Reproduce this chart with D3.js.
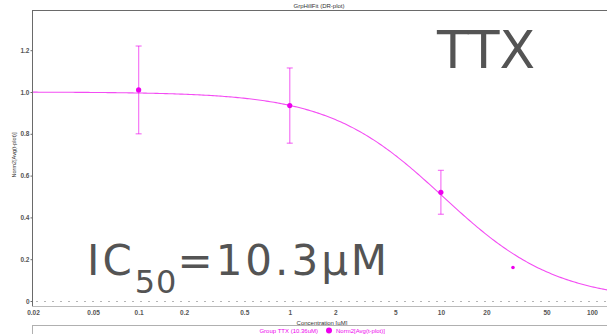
<!DOCTYPE html>
<html>
<head>
<meta charset="utf-8">
<script src="https://cdn.jsdelivr.net/npm/d3@7"></script>
<style>
  html, body { margin: 0; padding: 0; background: #fff; }
  svg { display: block; }
</style>
</head>
<body>
<svg id="chart" width="607" height="334"></svg>
<script>
// Concentrations (µM) with normalised response and error half-widths
const concentrations = [0.1, 1, 10, 30];
const responses      = [1.01, 0.935, 0.52, 0.16];
const errors         = [0.21, 0.18, 0.105, 0];

// Hill fit parameters
const fitTop = 1.0, fitBottom = 0.0, fitIC50 = 10.3, fitHill = 1.15;

const xTicks = [0.02, 0.05, 0.1, 0.2, 0.5, 1, 2, 5, 10, 20, 50, 100];
const xTickLabels = ["0.02", "0.05", "0.1", "0.2", "0.5", "1", "2", "5", "10", "20", "50", "100"];
const yTicks = [0, 0.2, 0.4, 0.6, 0.8, 1.0, 1.2];
const yTickLabels = ["0", "0.2", "0.4", "0.6", "0.8", "1.0", "1.2"];

const W = 607, H = 334;
const svg = d3.select("#chart");
const magenta = "#ee00ee";
const axisColor = "#6a6a6a";
const smallFont = "Liberation Sans, Arial, sans-serif";

const x = d3.scaleLog().domain([0.02, 100]).range([33, 592]);
const y = d3.scaleLinear().domain([0, 1]).range([301, 92]);

const plotLeft = 32, plotTop = 10, plotBottom = 306;

// title
svg.append("text")
  .attr("x", 319).attr("y", 8)
  .attr("text-anchor", "middle")
  .attr("font-family", smallFont).attr("font-size", 6)
  .attr("fill", "#333")
  .text("GrpHillFit (DR-plot)");

// frame
svg.append("line").attr("x1", plotLeft).attr("x2", W).attr("y1", plotTop + 0.5).attr("y2", plotTop + 0.5)
  .attr("stroke", axisColor).attr("stroke-width", 1);
svg.append("line").attr("x1", plotLeft + 0.5).attr("x2", plotLeft + 0.5).attr("y1", plotTop).attr("y2", plotBottom)
  .attr("stroke", axisColor).attr("stroke-width", 1);
svg.append("line").attr("x1", plotLeft).attr("x2", W).attr("y1", plotBottom + 0.5).attr("y2", plotBottom + 0.5)
  .attr("stroke", "#bbbbbb").attr("stroke-width", 1);

// zero reference line
svg.append("line")
  .attr("x1", plotLeft + 4).attr("x2", W)
  .attr("y1", y(0) + 0.5).attr("y2", y(0) + 0.5)
  .attr("stroke", "#b5b5b5").attr("stroke-width", 1)
  .attr("stroke-dasharray", "2,6");

// y axis
const yAxis = d3.axisLeft(y).tickValues(yTicks)
  .tickFormat((d, i) => yTickLabels[i]).tickSize(2).tickPadding(1);
const gy = svg.append("g").attr("transform", `translate(${plotLeft + 0.5},0)`).call(yAxis);
gy.select(".domain").remove();
gy.selectAll(".tick line").attr("stroke", axisColor);
gy.selectAll(".tick text").attr("font-family", smallFont).attr("font-size", 6.5)
  .attr("font-weight", "bold").attr("fill", "#555");

// x axis
const xAxis = d3.axisBottom(x).tickValues(xTicks)
  .tickFormat((d, i) => xTickLabels[i]).tickSize(0).tickPadding(4);
const gx = svg.append("g").attr("transform", `translate(0,${plotBottom})`).call(xAxis);
gx.select(".domain").remove();
gx.selectAll(".tick text").attr("font-family", smallFont).attr("font-size", 6.5)
  .attr("font-weight", "bold").attr("fill", "#555");

// axis titles
svg.append("text")
  .attr("x", 322).attr("y", 325)
  .attr("text-anchor", "middle")
  .attr("font-family", smallFont).attr("font-size", 6)
  .attr("fill", "#333")
  .text("Concentration [µM]");

svg.append("text")
  .attr("transform", "translate(16,155) rotate(-90)")
  .attr("text-anchor", "middle")
  .attr("font-family", smallFont).attr("font-size", 5.5)
  .attr("fill", "#333")
  .text("Norm2[Avg(t-plot)]");

// fitted Hill curve
const hill = c => fitBottom + (fitTop - fitBottom) / (1 + Math.pow(c / fitIC50, fitHill));
const xMax = x.invert(W);
const curvePts = d3.range(0, 301).map(i => {
  const c = Math.pow(10, Math.log10(0.02) + i / 300 * (Math.log10(xMax) - Math.log10(0.02)));
  return [c, hill(c)];
});
svg.append("path")
  .datum(curvePts)
  .attr("fill", "none")
  .attr("stroke", magenta).attr("stroke-opacity", 0.7).attr("stroke-width", 1.1)
  .attr("d", d3.line().x(d => x(d[0])).y(d => y(d[1])));

// error bars
const pts = concentrations.map((c, i) => ({ c, v: responses[i], e: errors[i] }));
const eb = svg.append("g").attr("stroke", magenta).attr("stroke-opacity", 0.5).attr("stroke-width", 1.3);
pts.filter(d => d.e > 0).forEach(d => {
  const cx = x(d.c);
  eb.append("line").attr("x1", cx).attr("x2", cx).attr("y1", y(d.v - d.e)).attr("y2", y(d.v + d.e));
  eb.append("line").attr("x1", cx - 3).attr("x2", cx + 3).attr("y1", y(d.v - d.e)).attr("y2", y(d.v - d.e));
  eb.append("line").attr("x1", cx - 3).attr("x2", cx + 3).attr("y1", y(d.v + d.e)).attr("y2", y(d.v + d.e));
});

// data points
svg.append("g").selectAll("circle").data(pts).join("circle")
  .attr("cx", d => x(d.c)).attr("cy", d => y(d.v))
  .attr("r", d => d.e > 0 ? 2.6 : 1.8)
  .attr("fill", magenta);

// legend panel
svg.append("line").attr("x1", plotLeft).attr("x2", W).attr("y1", 325.5).attr("y2", 325.5)
  .attr("stroke", "#b0b0b0").attr("stroke-width", 1);
svg.append("line").attr("x1", plotLeft + 0.5).attr("x2", plotLeft + 0.5).attr("y1", 325).attr("y2", H)
  .attr("stroke", "#b0b0b0").attr("stroke-width", 1);
svg.append("text")
  .attr("x", 318).attr("y", 332.5)
  .attr("text-anchor", "end")
  .attr("font-family", smallFont).attr("font-size", 6)
  .attr("fill", magenta)
  .text("Group TTX (10.36uM)");
svg.append("circle").attr("cx", 329).attr("cy", 330.5).attr("r", 3).attr("fill", magenta);
svg.append("text")
  .attr("x", 336).attr("y", 332.5)
  .attr("font-family", smallFont).attr("font-size", 6)
  .attr("fill", magenta)
  .text("Norm2[Avg(t-plot)]");

// annotations
svg.append("text")
  .attr("x", 437).attr("y", 68)
  .attr("font-family", "DejaVu Sans, Verdana, sans-serif").attr("font-size", 52)
  .attr("fill", "#545454")
  .text("TTX");

const ic = svg.append("text")
  .attr("x", 87).attr("y", 275)
  .attr("font-family", "DejaVu Sans, Verdana, sans-serif").attr("font-size", 42)
  .attr("fill", "#545454");
ic.append("tspan").attr("letter-spacing", 3).text("IC");
ic.append("tspan").attr("font-size", 32).attr("dy", 18).attr("letter-spacing", 1).text("50");
ic.append("tspan").attr("dy", -18).attr("letter-spacing", 3).text("=10.3µM");
</script>
</body>
</html>
